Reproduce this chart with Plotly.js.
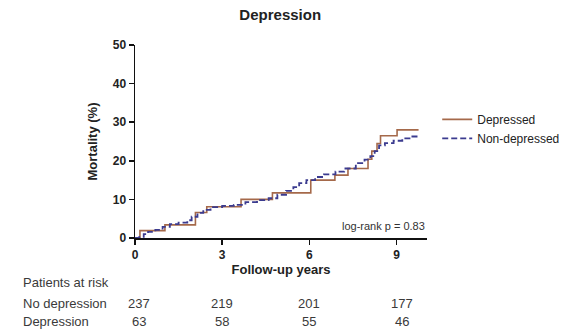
<!DOCTYPE html>
<html>
<head>
<meta charset="utf-8">
<script src="https://cdn.plot.ly/plotly-3.0.1.min.js"></script>
<style>html,body{margin:0;padding:0;background:#fff;}#chart{width:585px;height:333px;}</style>
</head>
<body>
<div id="chart"></div>
<script>
// Depressed (Kaplan-Meier step curve)
const depYears = [0, 0.17, 1.03, 2.08, 2.47, 3.65, 4.73, 6.05, 6.88, 7.33, 8.02, 8.15, 8.33, 8.45, 9.02, 9.76];
const depMort  = [0, 1.9, 3.4, 6.6, 8.1, 10.0, 11.7, 15.0, 16.3, 18.0, 20.4, 22.5, 24.5, 26.5, 28.0, 28.0];
// Non-depressed
const nonYears = [0, 0.15, 0.3, 0.45, 0.7, 0.95, 1.2, 1.5, 1.8, 1.95, 2.15, 2.35, 2.6, 3.0, 3.4, 3.8, 4.2, 4.6, 4.9, 5.2, 5.45, 5.65, 5.9, 6.2, 6.5, 6.9, 7.2, 7.6, 7.9, 8.1, 8.25, 8.4, 8.6, 8.9, 9.2, 9.5, 9.76];
const nonMort  = [0, 0.3, 1.0, 1.6, 2.1, 2.9, 3.6, 4.0, 4.6, 5.5, 6.5, 7.3, 8.0, 8.3, 8.6, 9.3, 9.8, 10.3, 11.2, 12.2, 13.2, 14.2, 15.0, 15.8, 16.5, 17.2, 18.0, 19.4, 20.3, 21.2, 22.5, 24.0, 24.6, 25.2, 25.8, 26.3, 26.7];
// Patients at risk
const riskYears = [0, 3, 6, 9];
const riskNoDep = [237, 219, 201, 177];
const riskDep   = [63, 58, 55, 46];
const xTicks = [0, 3, 6, 9];
const yTicks = [0, 10, 20, 30, 40, 50];

const traces = [
  {x: depYears, y: depMort, name: 'Depressed', type: 'scatter', mode: 'lines',
   line: {shape: 'hv', color: '#a5694a', width: 1.6}},
  {x: nonYears, y: nonMort, name: 'Non-depressed', type: 'scatter', mode: 'lines',
   line: {shape: 'hv', color: '#3b3b8f', width: 1.8, dash: '6px,3px'}}
];

const FAM = 'Liberation Sans, Arial, sans-serif';
const tableFont = {family: FAM, size: 13, color: '#3a3a3a'};
const annotations = [
  {xref: 'paper', yref: 'paper', x: 1, y: 0.06, xanchor: 'right', yanchor: 'middle',
   text: 'log-rank p = 0.83', showarrow: false,
   font: {family: FAM, size: 11, color: '#333'}},
  {xref: 'paper', yref: 'paper', x: -0.39, y: -0.233, xanchor: 'left', yanchor: 'middle',
   text: 'Patients at risk', showarrow: false, font: tableFont},
  {xref: 'paper', yref: 'paper', x: -0.39, y: -0.337, xanchor: 'left', yanchor: 'middle',
   text: 'No depression', showarrow: false, font: tableFont},
  {xref: 'paper', yref: 'paper', x: -0.39, y: -0.435, xanchor: 'left', yanchor: 'middle',
   text: 'Depression', showarrow: false, font: tableFont}
];
riskYears.forEach((yr, i) => {
  const xx = i === 0 ? yr + 0.15 : (i === 3 ? yr + 0.2 : yr);
  annotations.push({xref: 'x', yref: 'paper', x: xx, y: -0.337, xanchor: 'center', yanchor: 'middle',
    text: String(riskNoDep[i]), showarrow: false, font: tableFont});
  annotations.push({xref: 'x', yref: 'paper', x: xx, y: -0.435, xanchor: 'center', yanchor: 'middle',
    text: String(riskDep[i]), showarrow: false, font: tableFont});
});

const axisFont = {family: FAM, size: 12, color: '#222', weight: 'bold'};
const layout = {
  width: 585, height: 333,
  margin: {l: 135, r: 158, t: 45, b: 95},
  paper_bgcolor: '#fff', plot_bgcolor: '#fff',
  title: {text: 'Depression', x: 0.479, xanchor: 'center', y: 0.955, yanchor: 'middle',
    font: {family: FAM, size: 15, color: '#222', weight: 'bold'}},
  xaxis: {range: [0, 10.05], tickvals: xTicks, ticktext: xTicks.map(String),
    showline: true, linecolor: '#111', linewidth: 1.5, ticks: 'outside', ticklen: 5, tickwidth: 1.5, tickcolor: '#111',
    showgrid: false, zeroline: false, tickfont: axisFont,
    title: {text: 'Follow-up years', standoff: 2, font: {family: FAM, size: 13, color: '#222', weight: 'bold'}}},
  yaxis: {range: [0, 50], tickvals: yTicks, ticktext: yTicks.map(String),
    showline: true, linecolor: '#111', linewidth: 1.5, ticks: 'outside', ticklen: 5, tickwidth: 1.5, tickcolor: '#111',
    showgrid: false, zeroline: false, tickfont: axisFont,
    title: {text: 'Mortality (%)', standoff: 12, font: {family: FAM, size: 13, color: '#222', weight: 'bold'}}},
  showlegend: true,
  legend: {x: 1.035, y: 0.69, xanchor: 'left', yanchor: 'top', bgcolor: 'rgba(0,0,0,0)',
    font: {family: FAM, size: 12, color: '#222'}, tracegroupgap: 0},
  annotations: annotations
};
Plotly.newPlot('chart', traces, layout, {displayModeBar: false, staticPlot: true});
</script>
</body>
</html>
